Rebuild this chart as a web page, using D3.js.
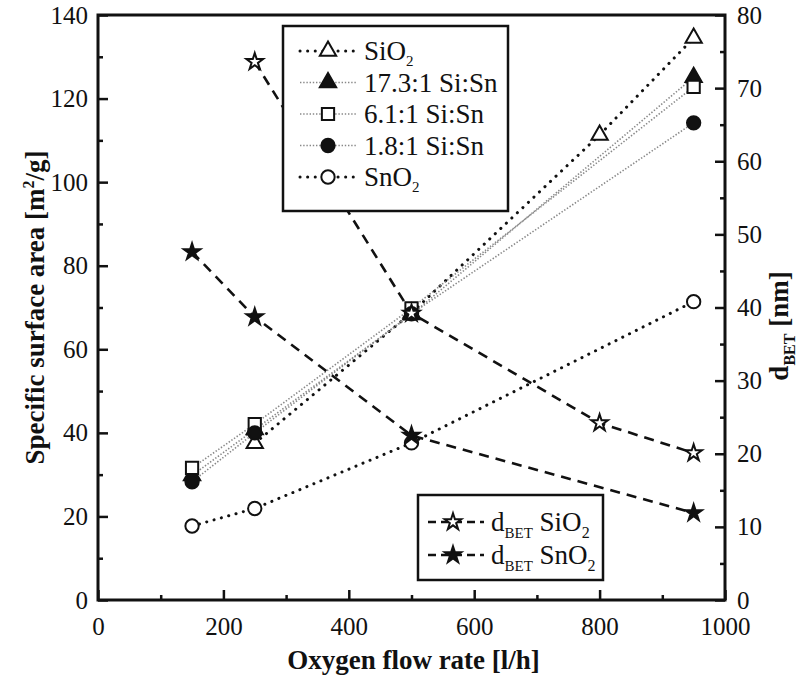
<!DOCTYPE html>
<html>
<head>
<meta charset="utf-8">
<script src="https://cdn.jsdelivr.net/npm/d3@7"></script>
<style>
  body { margin: 0; background: #fff; }
  text { font-family: "Liberation Serif", "Times New Roman", serif; fill: #111; }
  .axis text { font-size: 25px; }
  .axis line { stroke: #111; stroke-width: 2.5; }
  .title { font-weight: bold; font-size: 27px; }
  .leg { font-size: 27px; }
</style>
</head>
<body>
<div id="chart"></div>
<script>
// data
var flowSiO2 = [250, 500, 800, 950];
var areaSiO2 = [37.5, 68.7, 111.3, 134.5];

var flowMix = [150, 250, 500, 950];
var area17 = [29.8, 40.8, 68.3, 125.1];   // 17.3:1 Si:Sn
var area61 = [31.6, 42.1, 69.8, 122.8];   // 6.1:1 Si:Sn
var area18 = [28.3, 40.0, 68.5, 114.2];   // 1.8:1 Si:Sn

var flowSnO2 = [150, 250, 500, 950];
var areaSnO2 = [17.7, 21.9, 37.6, 71.4];

var dFlowSiO2 = [250, 500, 800, 950];
var dSiO2 = [73.6, 39.2, 24.2, 20.1];
var dFlowSnO2 = [150, 250, 500, 950];
var dSnO2 = [47.6, 38.7, 22.5, 11.9];

var xTicks = [0, 200, 400, 600, 800, 1000];
var yTicks = [0, 20, 40, 60, 80, 100, 120, 140];
var y2Ticks = [0, 10, 20, 30, 40, 50, 60, 70, 80];

//set dimensions and margins
var margin = {top: 15, right: 82, bottom: 77, left: 98},
  width = 807 - margin.left - margin.right,
  height = 677 - margin.top - margin.bottom;

var x = d3.scaleLinear().domain([0, 1000]).range([0, width]);
var y = d3.scaleLinear().domain([0, 140]).range([height, 0]);
var y2 = d3.scaleLinear().domain([0, 80]).range([height, 0]);

var svg = d3.select("#chart").append("svg")
  .attr("width", 807)
  .attr("height", 677);

var g = svg.append("g")
  .attr("transform", "translate(" + margin.left + "," + margin.top + ")");

//minor ticks first, then major ticks with labels
function ticks(axis, vals, size, labels, pad) {
  return axis.tickValues(vals).tickSize(size).tickSizeOuter(0).tickPadding(pad || 10)
    .tickFormat(labels ? d3.format("d") : "");
}

g.append("g").attr("class", "axis").attr("transform", "translate(0," + height + ")")
  .call(ticks(d3.axisBottom(x), d3.range(100, 1000, 200), -5, false));
g.append("g").attr("class", "axis").attr("transform", "translate(0," + height + ")")
  .call(ticks(d3.axisBottom(x), xTicks, -10, true, 17));

g.append("g").attr("class", "axis")
  .call(ticks(d3.axisLeft(y), d3.range(10, 140, 20), -5, false));
g.append("g").attr("class", "axis")
  .call(ticks(d3.axisLeft(y), yTicks, -10, true, 10));

g.append("g").attr("class", "axis").attr("transform", "translate(" + width + ",0)")
  .call(ticks(d3.axisRight(y2), d3.range(5, 80, 10), -5, false));
g.append("g").attr("class", "axis").attr("transform", "translate(" + width + ",0)")
  .call(ticks(d3.axisRight(y2), y2Ticks, -10, true, 12));

g.selectAll(".domain").remove();

//frame
g.append("rect")
  .attr("width", width).attr("height", height)
  .attr("fill", "none").attr("stroke", "#111").attr("stroke-width", 3);

//axis titles
svg.append("text").attr("class", "title")
  .attr("x", margin.left + width / 2 + 2).attr("y", 669)
  .attr("text-anchor", "middle")
  .text("Oxygen flow rate [l/h]");

var lt = svg.append("text").attr("class", "title")
  .attr("transform", "translate(44," + (margin.top + height / 2) + ") rotate(-90)")
  .attr("text-anchor", "middle");
lt.append("tspan").text("Specific surface area [m");
lt.append("tspan").attr("font-size", "16px").attr("dy", -10).text("2");
lt.append("tspan").attr("dy", 10).text("/g]");

var rt = svg.append("text").attr("class", "title")
  .attr("transform", "translate(788,326) rotate(-90)")
  .attr("text-anchor", "middle");
rt.append("tspan").text("d");
rt.append("tspan").attr("font-size", "16px").attr("dy", 7).text("BET");
rt.append("tspan").attr("dy", -7).text(" [nm]");

//series
var series = [
  {name: "SiO2", xs: flowSiO2, ys: areaSiO2, sc: y, sym: d3.symbolTriangle, size: 115, fill: "#fff", line: "black"},
  {name: "17.3:1 Si:Sn", xs: flowMix, ys: area17, sc: y, sym: d3.symbolTriangle, size: 115, fill: "#111", line: "gray"},
  {name: "6.1:1 Si:Sn", xs: flowMix, ys: area61, sc: y, sym: d3.symbolSquare, size: 150, fill: "#fff", line: "gray"},
  {name: "1.8:1 Si:Sn", xs: flowMix, ys: area18, sc: y, sym: d3.symbolCircle, size: 140, fill: "#111", line: "gray"},
  {name: "SnO2", xs: flowSnO2, ys: areaSnO2, sc: y, sym: d3.symbolCircle, size: 140, fill: "#fff", line: "black"},
  {name: "dSiO2", xs: dFlowSiO2, ys: dSiO2, sc: y2, sym: d3.symbolStar, size: 85, fill: "#fff", line: "dash"},
  {name: "dSnO2", xs: dFlowSnO2, ys: dSnO2, sc: y2, sym: d3.symbolStar, size: 85, fill: "#111", line: "dash"}
];

function lineStyle(sel, kind) {
  if (kind == "black") {
    sel.attr("stroke", "#111").attr("stroke-width", 3)
      .attr("stroke-dasharray", "0.1,7.5").attr("stroke-linecap", "round");
  } else if (kind == "gray") {
    sel.attr("stroke", "#888").attr("stroke-width", 1.6)
      .attr("stroke-dasharray", "1.4,1.8");
  } else {
    sel.attr("stroke", "#111").attr("stroke-width", 2.6)
      .attr("stroke-dasharray", "10,7");
  }
}

series.forEach(function(s) {
  var pts = s.xs.map(function(d, i) { return [x(d), s.sc(s.ys[i])]; });
  g.append("path")
    .attr("d", d3.line()(pts))
    .attr("fill", "none")
    .call(lineStyle, s.line);
});

series.forEach(function(s) {
  g.selectAll(null)
    .data(s.xs)
    .enter()
    .append("path")
      .attr("d", d3.symbol(s.sym, s.size))
      .attr("transform", function(d, i) { return "translate(" + x(d) + "," + s.sc(s.ys[i]) + ")"; })
      .attr("fill", s.fill)
      .attr("stroke", "#111")
      .attr("stroke-width", 2);
});

//legend 1
var leg1 = svg.append("g");
leg1.append("rect")
  .attr("x", 283).attr("y", 26).attr("width", 225).attr("height", 185)
  .attr("fill", "#fff").attr("stroke", "#111").attr("stroke-width", 2.5);

var legRows = series.slice(0, 5);
legRows.forEach(function(s, i) {
  var cy = 51 + i * 31.5;
  leg1.append("line")
    .attr("x1", 300).attr("x2", 357).attr("y1", cy).attr("y2", cy)
    .call(lineStyle, s.line);
  leg1.append("path")
    .attr("d", d3.symbol(s.sym, s.size))
    .attr("transform", "translate(328," + cy + ")")
    .attr("fill", s.fill).attr("stroke", "#111").attr("stroke-width", 2);
  var t = leg1.append("text").attr("class", "leg")
    .attr("x", 364).attr("y", cy + 9);
  if (s.name.indexOf("O2") > 0) {
    t.append("tspan").text(s.name.slice(0, -1));
    t.append("tspan").attr("font-size", "15px").attr("dy", 6).text("2");
  } else {
    t.text(s.name);
  }
});

//legend 2
var leg2 = svg.append("g");
leg2.append("rect")
  .attr("x", 418).attr("y", 495).attr("width", 185).attr("height", 85)
  .attr("fill", "#fff").attr("stroke", "#111").attr("stroke-width", 2.5);

[series[5], series[6]].forEach(function(s, i) {
  var cy = 522 + i * 33;
  leg2.append("line")
    .attr("x1", 428).attr("x2", 484).attr("y1", cy).attr("y2", cy)
    .attr("stroke", "#111").attr("stroke-width", 2.4).attr("stroke-dasharray", "8,5");
  leg2.append("path")
    .attr("d", d3.symbol(s.sym, s.size))
    .attr("transform", "translate(453," + cy + ")")
    .attr("fill", s.fill).attr("stroke", "#111").attr("stroke-width", 2);
  var t = leg2.append("text").attr("class", "leg").attr("font-size", "26px")
    .attr("x", 491).attr("y", cy + 9);
  t.append("tspan").text("d");
  t.append("tspan").attr("font-size", "15px").attr("dy", 7).text("BET");
  t.append("tspan").attr("dy", -7).text(i == 0 ? " SiO" : " SnO");
  t.append("tspan").attr("font-size", "16px").attr("dy", 7).text("2");
});
</script>
</body>
</html>
